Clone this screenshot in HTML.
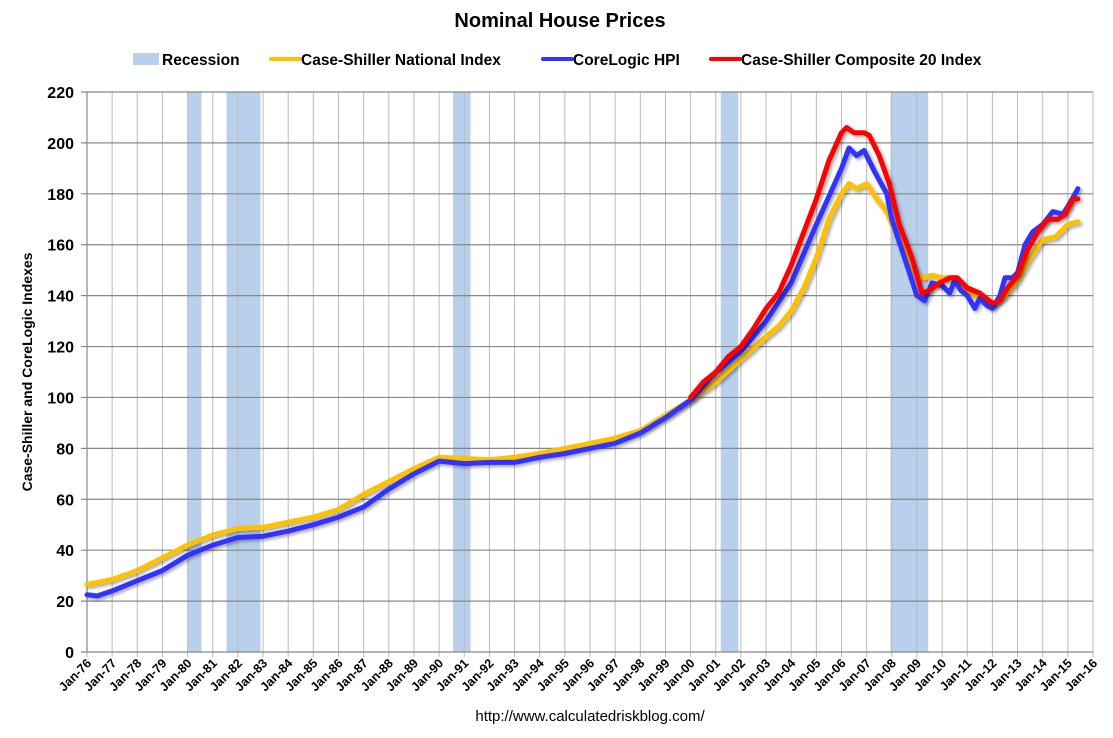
<!DOCTYPE html>
<html><head><meta charset="utf-8"><style>
body{margin:0;background:#fff;font-family:"Liberation Sans",sans-serif}
svg text{font-family:"Liberation Sans",sans-serif;font-weight:bold;fill:#000}
</style></head><body>
<svg id="c" width="1113" height="733">
<defs><filter id="sh" x="-5%" y="-5%" width="110%" height="110%"><feDropShadow dx="2" dy="2" stdDeviation="1.5" flood-color="#000" flood-opacity="0.35"/></filter></defs>
<text x="560" y="27" font-size="20" text-anchor="middle">Nominal House Prices</text>
<g>
<rect x="133" y="53" width="26" height="12" fill="#b9d0ec"/>
<text x="162" y="65" font-size="15.5">Recession</text>
<line x1="271" y1="59" x2="300" y2="59" stroke="#ffc000" stroke-width="4" stroke-linecap="round"/>
<text x="301" y="65" font-size="15.5">Case-Shiller National Index</text>
<line x1="543" y1="59" x2="572" y2="59" stroke="#3333ff" stroke-width="4" stroke-linecap="round"/>
<text x="573" y="65" font-size="15.5">CoreLogic HPI</text>
<line x1="711" y1="59" x2="740" y2="59" stroke="#ff0000" stroke-width="4" stroke-linecap="round"/>
<text x="741" y="65" font-size="15.5">Case-Shiller Composite 20 Index</text>
</g>
<g id="plot"></g>
<text transform="translate(32,372) rotate(-90)" font-size="14" text-anchor="middle">Case-Shiller and CoreLogic Indexes</text>
<text x="590" y="721" font-size="15" text-anchor="middle" style="font-weight:normal">http://www.calculatedriskblog.com/</text>
</svg>
<script>
const yTicks=[0,20,40,60,80,100,120,140,160,180,200,220];
const years=[];for(let y=1976;y<=2016;y++)years.push(y);
const recessions=[[1980.0,1980.55],[1981.55,1982.9],[1990.55,1991.25],[2001.2,2001.9],[2007.95,2009.45]];
const natT=[1976,1977,1978,1979,1980,1981,1982,1983,1984,1985,1986,1987,1988,1989,1990,1991,1992,1993,1994,1995,1996,1997,1998,1999,2000,2001,2002,2003,2003.5,2004,2004.5,2005,2005.5,2006,2006.3,2006.6,2007,2007.4,2007.8,2008,2008.5,2009,2009.3,2009.6,2010,2010.3,2010.6,2011,2011.5,2012,2012.5,2013,2013.5,2014,2014.5,2015,2015.4];
const natV=[26.5,28.5,32,37,42,46,48.5,49,51,53,56,62,67,72,76.5,76,75.5,76.5,78,80,82,84,87,93,99,106,115,124,128,134,143,155,170,180,184,182,184,178,173,168,158,148,147,148,147,147,146,142,139,136,140,146,155,162,163,168,169];
const clT=[1976,1976.4,1977,1978,1979,1980,1981,1982,1983,1984,1985,1986,1987,1988,1989,1990,1991,1992,1993,1994,1995,1996,1997,1998,1999,2000,2001,2002,2003,2004,2005,2006,2006.3,2006.6,2006.9,2007.3,2007.8,2008,2008.5,2009,2009.3,2009.6,2010,2010.3,2010.5,2010.75,2011,2011.3,2011.5,2011.8,2012,2012.3,2012.5,2012.8,2013,2013.3,2013.6,2014,2014.4,2014.8,2015,2015.4];
const clV=[22.5,22,24,28,32,38,42,45,45.5,47.5,50,53,57,64,70,75,74,74.5,74.5,76.5,78,80,82,86,92,99,110,118,130,145,168,190,198,195,197,189,180,170,155,140,138,145,144,141,146,142,140,135,139,136,135,140,147,147,149,160,165,168,173,172,175,182];
const csT=[2000,2000.5,2001,2001.5,2002,2002.5,2003,2003.5,2004,2004.5,2005,2005.5,2006,2006.2,2006.5,2006.9,2007.1,2007.5,2007.9,2008.3,2008.8,2009.2,2009.5,2009.9,2010.3,2010.6,2011,2011.5,2012,2012.3,2012.6,2013,2013.4,2013.8,2014.2,2014.6,2014.9,2015.2,2015.4];
const csV=[100,106,110,116,120,127,135,141,152,165,178,193,204,206,204,204,203,195,184,168,155,141,142,145,147,147,143,141,137,138,143,148,158,165,170,170,172,178,178];
const L=87,R=1093,T=92,B=652;
const xs=t=>L+(t-1976)/(2016-1976)*(R-L);
const ys=v=>B-v/220*(B-T);
const g=document.getElementById('plot');const NS='http://www.w3.org/2000/svg';
function mk(tag,at){const e=document.createElementNS(NS,tag);for(const k in at)e.setAttribute(k,at[k]);g.appendChild(e);return e;}
recessions.forEach(r=>{const e=mk('rect',{x:xs(r[0]),y:T,width:xs(r[1])-xs(r[0]),height:B-T,fill:'#b9d0ec'});

});
years.forEach(y=>{const e=mk('line',{x1:xs(y),x2:xs(y),y1:T,y2:B+5,stroke:'#bbb','stroke-width':1});


const tx=mk('text',{transform:`translate(${xs(y)+5},${B+12}) rotate(-45)`,'font-size':12.5,'text-anchor':'end'});tx.textContent='Jan-'+String(y).slice(2);

});
yTicks.forEach(v=>{const e=mk('line',{x1:L-6,x2:R,y1:ys(v),y2:ys(v),stroke:'#888','stroke-width':1.2});


const tx=mk('text',{x:L-13,y:ys(v)+6,'font-size':16,'text-anchor':'end'});tx.textContent=v;

});
const ax=mk('line',{x1:L,x2:L,y1:T,y2:B,stroke:'#888','stroke-width':1.2});


function series(T2,V,col,name){const d=T2.map((t,i)=>(i?'L':'M')+xs(t).toFixed(1)+','+ys(V[i]).toFixed(1)).join('');
const p=mk('path',{d:d,fill:'none',stroke:col,'stroke-width':5,'stroke-linejoin':'round','stroke-linecap':'round',filter:'url(#sh)'});

}
series(natT,natV,'#ffc000','national-index-line');
series(clT,clV,'#3333ff','corelogic-line');
series(csT,csV,'#ff0000','composite20-line');
</script>
</body></html>
